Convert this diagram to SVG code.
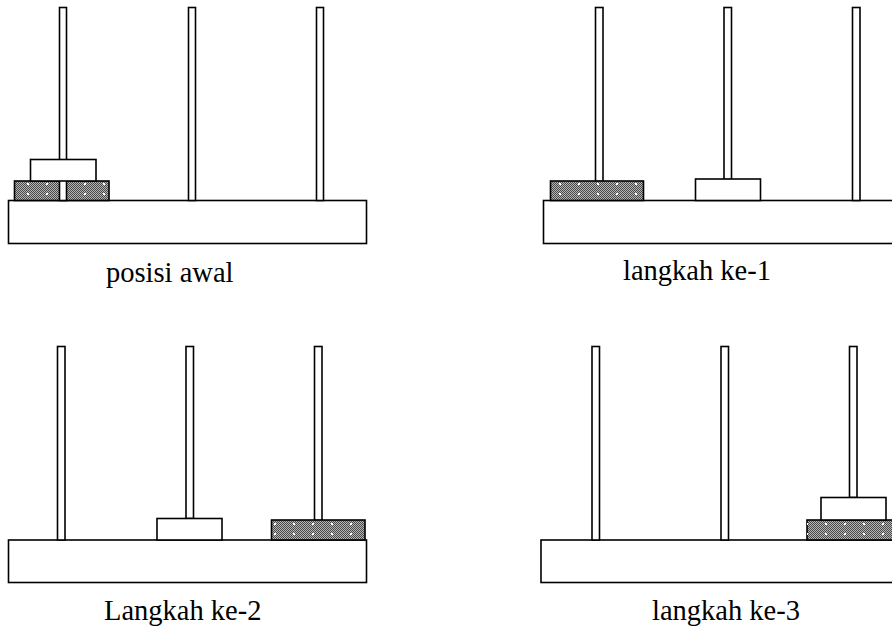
<svg xmlns="http://www.w3.org/2000/svg" width="892" height="633" viewBox="0 0 892 633">
<defs>
<pattern id="chk" width="2" height="2" patternUnits="userSpaceOnUse">
<rect width="2" height="2" fill="#b4b4b4"/>
<rect width="1" height="1" fill="#4a4a4a"/>
<rect x="1" y="1" width="1" height="1" fill="#4a4a4a"/>
</pattern>
<pattern id="dots" width="19" height="10" patternUnits="userSpaceOnUse">
<rect x="8" y="3" width="2" height="2" fill="#ffffff"/>
</pattern>
</defs>
<style>
.base{fill:#fff;stroke:#000;stroke-width:1.6}
.pole{fill:#fff;stroke:#000;stroke-width:1.6}
.wd{fill:#fff;stroke:#000;stroke-width:1.6}
.gd{fill:url(#chk);stroke:#000;stroke-width:1.6}
.gdd{fill:url(#dots);stroke:none}
text{font-family:'Liberation Serif','Times New Roman',serif;font-size:28.5px;fill:#000}
</style>
<rect width="892" height="633" fill="#fff"/>

<g id="panel-awal">
<rect class="base" x="8.5" y="200.5" width="358" height="43"/>
<rect class="gd" x="14.5" y="181" width="94.5" height="19.5"/>
<rect class="gdd" x="14.5" y="181" width="94.5" height="19.5"/>
<rect class="pole" x="59.5" y="7.5" width="7" height="193"/>
<rect class="wd" x="30.5" y="159.5" width="65.5" height="21.5"/>
<rect class="pole" x="188.5" y="7.5" width="7" height="193"/>
<rect class="pole" x="316.5" y="7.5" width="7" height="193"/>
<text x="106" y="282">posisi awal</text>
</g>

<g id="panel-1">
<rect class="base" x="543.5" y="200.5" width="360" height="43"/>
<rect class="pole" x="595.5" y="7.5" width="7.5" height="174"/>
<rect class="gd" x="550.5" y="181" width="93" height="19.5"/>
<rect class="gdd" x="550.5" y="181" width="93" height="19.5"/>
<rect class="pole" x="724" y="7.5" width="7.5" height="172"/>
<rect class="wd" x="695.5" y="179" width="65" height="21.5"/>
<rect class="pole" x="852.5" y="7.5" width="7.5" height="193"/>
<text x="623" y="280">langkah ke-1</text>
</g>

<g id="panel-2">
<rect class="base" x="8.5" y="540" width="358" height="42.5"/>
<rect class="pole" x="57.5" y="346.5" width="7.5" height="193.5"/>
<rect class="pole" x="186" y="346.5" width="7.5" height="172"/>
<rect class="wd" x="157" y="518.5" width="65" height="21.5"/>
<rect class="pole" x="314.5" y="346.5" width="7.5" height="174"/>
<rect class="gd" x="271.5" y="520" width="93.5" height="20"/>
<rect class="gdd" x="271.5" y="520" width="93.5" height="20"/>
<text x="104" y="620">Langkah ke-2</text>
</g>

<g id="panel-3">
<rect class="base" x="541" y="540" width="360" height="42.5"/>
<rect class="pole" x="592" y="346.5" width="7.5" height="193.5"/>
<rect class="pole" x="721" y="346.5" width="7.5" height="193.5"/>
<rect class="pole" x="849.5" y="346.5" width="7.5" height="151"/>
<rect class="gd" x="807" y="520" width="94" height="20"/>
<rect class="gdd" x="807" y="520" width="94" height="20"/>
<rect class="wd" x="821" y="497.5" width="65" height="22.5"/>
<text x="652" y="620">langkah ke-3</text>
</g>
</svg>
